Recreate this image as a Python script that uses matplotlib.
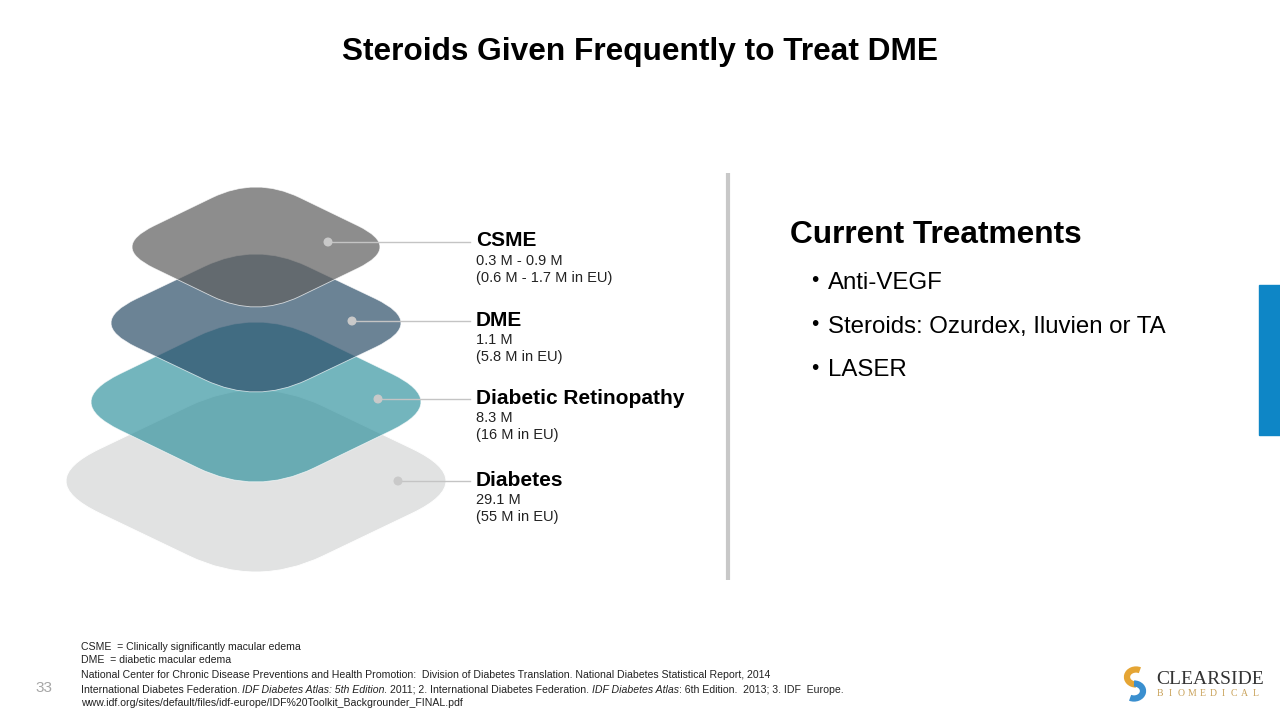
import numpy as np
import matplotlib.pyplot as plt
from matplotlib.path import Path
from matplotlib.patches import PathPatch, Rectangle, Circle, Arc
from matplotlib import font_manager

plt.rcParams['font.family'] = ['Liberation Sans', 'DejaVu Sans']

try:
    font_manager.findfont('Liberation Sans Narrow', fallback_to_default=False)
    narrow = 'Liberation Sans Narrow'
except ValueError:
    narrow = 'Liberation Sans'

# layers, top of the stack first
names = ['CSME', 'DME', 'Diabetic Retinopathy', 'Diabetes']
us_counts = ['0.3 M - 0.9 M', '1.1 M', '8.3 M', '29.1 M']
eu_counts = ['(0.6 M - 1.7 M in EU)', '(5.8 M in EU)', '(16 M in EU)', '(55 M in EU)']
colors = ['#616161', '#2d4e69', '#31929e', '#e1e2e2']
alphas = [0.72, 0.70, 0.68, 1.0]

treatments = ['Anti-VEGF', 'Steroids: Ozurdex, Iluvien or TA', 'LASER']

footnotes = [
    'CSME  = Clinically significantly macular edema',
    'DME  = diabetic macular edema',
    'National Center for Chronic Disease Preventions and Health Promotion:  Division of Diabetes Translation. '
    'National Diabetes Statistical Report, 2014',
]
ref_parts = [
    ('International Diabetes Federation.', 'normal', 2.5),
    ('IDF Diabetes Atlas: 5th Edition.', 'italic', 2.5),
    ('2011; 2. International Diabetes Federation.', 'normal', 2.5),
    ('IDF Diabetes Atlas', 'italic', 0),
    (': 6th Edition.  2013; 3. IDF  Europe.', 'normal', 0),
]
ref_url = 'www.idf.org/sites/default/files/idf-europe/IDF%20Toolkit_Backgrounder_FINAL.pdf'

# diamond geometry in pixels (visible extents)
cx = 256
cy = [247, 323, 402, 481]
half_w = [124, 145, 165, 190]
half_h = [60, 69, 80, 91]
rnd = 0.3
dot_x = [328, 352, 378, 398]
dot_y = [242, 321, 399, 481]


def rounded_diamond(x0, y0, w, h, r):
    w = w / (1 - 0.5 * r)
    h = h / (1 - 0.5 * r)
    pts = np.array([[x0, y0 - h], [x0 + w, y0], [x0, y0 + h], [x0 - w, y0]])
    verts, codes = [], []
    for i in range(4):
        p = pts[i]
        a = p + r * (pts[i - 1] - p)
        b = p + r * (pts[(i + 1) % 4] - p)
        verts += [a, p, b]
        codes += [Path.MOVETO if i == 0 else Path.LINETO, Path.CURVE3, Path.CURVE3]
    verts.append(verts[0])
    codes.append(Path.CLOSEPOLY)
    return Path(verts, codes)


fig = plt.figure(figsize=(12.8, 7.2), dpi=100)
ax = fig.add_axes([0, 0, 1, 1])
ax.set_xlim(0, 1280)
ax.set_ylim(720, 0)
ax.axis('off')

ax.text(640, 52, 'Steroids Given Frequently to Treat DME', ha='center', va='center',
        fontsize=22.8, fontweight='bold', color='black')

# stack drawn from the bottom layer up
for i in range(3, -1, -1):
    ax.add_patch(PathPatch(rounded_diamond(cx, cy[i], half_w[i], half_h[i], rnd),
                           facecolor=colors[i], alpha=alphas[i], edgecolor='white',
                           lw=0.6, zorder=2 + (3 - i)))

for i in range(4):
    ax.plot([dot_x[i], 470], [dot_y[i], dot_y[i]], color='#c4c4c4', lw=1, zorder=10)
    ax.add_patch(Circle((dot_x[i], dot_y[i]), 3.8, color='#c9c9c9', zorder=11))
    ax.text(476, dot_y[i] - 1, names[i], ha='left', va='center', fontsize=15,
            fontweight='bold', family=narrow)
    ax.text(476, dot_y[i] + 19, us_counts[i], ha='left', va='center', fontsize=10.5,
            family=narrow, color='#222222')
    ax.text(476, dot_y[i] + 36, eu_counts[i], ha='left', va='center', fontsize=10.5,
            family=narrow, color='#222222')

ax.plot([728, 728], [173, 580], color='#c8c8c8', lw=3, solid_capstyle='butt')

ax.text(790, 235, 'Current Treatments', ha='left', va='center', fontsize=22.8,
        fontweight='bold')
for k, item in enumerate(treatments):
    y = 283 + k * 43.5
    ax.text(815, y - 2, '\u2022', ha='center', va='center', fontsize=15)
    ax.text(828, y, item, ha='left', va='center', fontsize=17.3)

ax.add_patch(Rectangle((1259, 285), 21, 150, color='#0e86c6'))

# footnotes
ax.text(35, 688, '33', ha='left', va='center', fontsize=11, color='#a6a6a6')
for k, line in enumerate(footnotes):
    ax.text(81, [647, 660, 675][k], line, ha='left', va='center', fontsize=7.6,
            family=narrow, color='#222222')

renderer = fig.canvas.get_renderer()
x = 81
for piece, style, gap in ref_parts:
    t = ax.text(x, 690, piece, ha='left', va='center', fontsize=7.6, family=narrow,
                style=style, color='#222222')
    x += t.get_window_extent(renderer=renderer).width + gap
ax.text(81, 703, ref_url, ha='left', va='center', fontsize=7.6, family=narrow,
        color='#222222')

# logo
ax.add_patch(Arc((1136, 677), 18, 15, theta1=90, theta2=300, color='#e5a534', lw=4.5))
ax.add_patch(Arc((1134, 691), 18, 15, theta1=270, theta2=120, color='#3a8fcf', lw=4.5))
ax.text(1156, 679, 'CLEARSIDE', ha='left', va='center', fontsize=14,
        family=['Liberation Serif', 'DejaVu Serif'], color='#333333')
for k, ch in enumerate('BIOMEDICAL'):
    ax.text(1160 + k * 10.6, 694, ch, ha='center', va='center', fontsize=7,
            family=['Liberation Serif', 'DejaVu Serif'], color='#c9a25a')

fig.savefig('out.png', dpi=100)
